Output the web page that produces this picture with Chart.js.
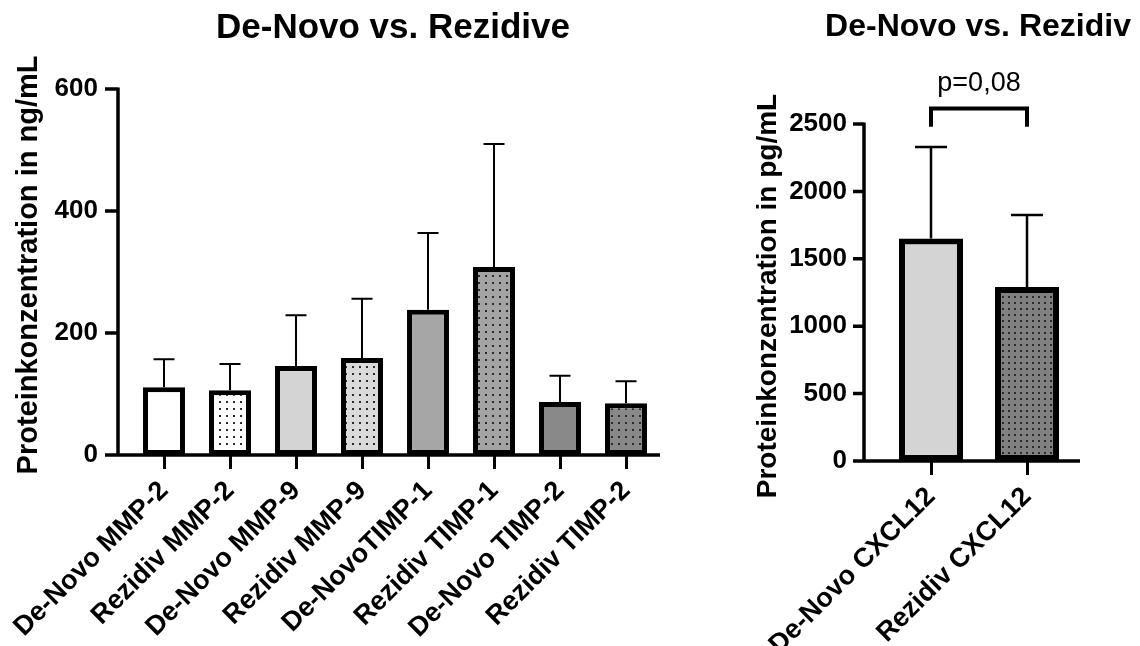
<!DOCTYPE html>
<html>
<head>
<meta charset="utf-8">
<script src="https://cdn.jsdelivr.net/npm/chart.js@4.4.0/dist/chart.umd.min.js"></script>
<style>
  html, body { margin: 0; padding: 0; background: #fff; }
  #wrap { position: relative; width: 1140px; height: 646px; }
  #left { position: absolute; left: 0; top: 0; width: 700px; height: 646px; }
  #right { position: absolute; left: 700px; top: 0; width: 440px; height: 646px; }
</style>
</head>
<body>
<div id="wrap">
  <div id="left"><canvas id="mmpChart"></canvas></div>
  <div id="right"><canvas id="cxclChart"></canvas></div>
</div>
<script>
// left panel: MMP / TIMP in ng/mL
const mmpLabels = ['De-Novo MMP-2', 'Rezidiv MMP-2', 'De-Novo MMP-9', 'Rezidiv MMP-9',
                   'De-NovoTIMP-1', 'Rezidiv TIMP-1', 'De-Novo TIMP-2', 'Rezidiv TIMP-2'];
const mmpMeans = [111, 106, 146, 159, 238, 308, 87, 85];
const mmpSD = [46, 43, 83, 97, 126, 202, 43, 36];
const mmpTicks = [0, 200, 400, 600];
const mmpColors = ['#ffffff', '#ffffff', '#d4d4d4', '#dadada', '#a6a6a6', '#a3a3a3', '#898989', '#888888'];
const mmpDotted = [false, true, false, true, false, true, false, true];

// right panel: CXCL12 in pg/mL
const cxclLabels = ['De-Novo CXCL12', 'Rezidiv CXCL12'];
const cxclMeans = [1650, 1290];
const cxclSD = [680, 535];
const cxclTicks = [0, 500, 1000, 1500, 2000, 2500];
const cxclColors = ['#d4d4d4', '#808080'];
const cxclDotted = [false, true];

const FONT = 'Liberation Sans, Arial, Helvetica, sans-serif';

function dotPattern(ctx, bg, step) {
    const c = document.createElement('canvas');
    c.width = step;
    c.height = step;
    const g = c.getContext('2d');
    g.fillStyle = bg;
    g.fillRect(0, 0, step, step);
    g.fillStyle = '#2b2b2b';
    g.fillRect(2, 2, 2, 2);
    return ctx.createPattern(c, 'repeat');
}

function fills(canvas, colors, dotted, step) {
    const ctx = canvas.getContext('2d');
    return colors.map((c, i) => dotted[i] ? dotPattern(ctx, c, step) : c);
}

// Prism-style detached axes, titles, SD whiskers and significance bracket
const prismAxes = {
    id: 'prismAxes',
    afterDraw(chart, args, opts) {
        const { ctx, chartArea } = chart;
        const xs = chart.scales.x, ys = chart.scales.y;
        const ax = chartArea.left - opts.gap;
        const y0 = ys.getPixelForValue(0);
        const yTop = ys.getPixelForValue(ys.max);
        const bars = chart.getDatasetMeta(0).data;

        ctx.save();
        ctx.strokeStyle = '#000';
        ctx.fillStyle = '#000';

        // whiskers
        ctx.lineWidth = opts.errWidth;
        ctx.beginPath();
        bars.forEach((bar, i) => {
            const m = opts.means[i];
            const yb = ys.getPixelForValue(m);
            const ye = ys.getPixelForValue(m + opts.sd[i]);
            ctx.moveTo(bar.x, yb);
            ctx.lineTo(bar.x, ye);
            ctx.moveTo(bar.x - opts.cap / 2, ye);
            ctx.lineTo(bar.x + opts.cap / 2, ye);
        });
        ctx.stroke();

        // axes
        ctx.lineWidth = 3.5;
        ctx.beginPath();
        ctx.moveTo(ax, yTop - 1.5);
        ctx.lineTo(ax, y0 + 1.75);
        ctx.moveTo(ax - 1.75, y0);
        ctx.lineTo(chartArea.right + opts.extend, y0);
        ys.ticks.forEach(t => {
            const py = ys.getPixelForValue(t.value);
            ctx.moveTo(ax - opts.tick, py);
            ctx.lineTo(ax, py);
        });
        ctx.stroke();

        // chart title
        ctx.textAlign = 'center';
        ctx.textBaseline = 'middle';
        ctx.font = 'bold ' + opts.titleSize + 'px ' + FONT;
        ctx.fillText(opts.title, (chartArea.left + chartArea.right) / 2 + opts.titleDx, opts.titleY);

        // y axis title
        ctx.save();
        ctx.translate(opts.yTitleX, opts.yTitleY);
        ctx.rotate(-Math.PI / 2);
        ctx.font = 'bold ' + opts.yTitleSize + 'px ' + FONT;
        ctx.fillText(opts.yTitle, 0, 0);
        ctx.restore();

        if (opts.bracket) {
            const b = opts.bracket;
            const x1 = xs.getPixelForValue(b.from);
            const x2 = xs.getPixelForValue(b.to);
            const yb = ys.getPixelForValue(b.value);
            const yd = ys.getPixelForValue(b.drop);
            ctx.lineWidth = 4;
            ctx.beginPath();
            ctx.moveTo(x1, yd);
            ctx.lineTo(x1, yb);
            ctx.lineTo(x2, yb);
            ctx.lineTo(x2, yd);
            ctx.stroke();
            ctx.font = '27px ' + FONT;
            ctx.fillText(b.text, (x1 + x2) / 2, yb - 25);
        }
        ctx.restore();
    }
};

function makeChart(canvas, cfg) {
    return new Chart(canvas, {
        type: 'bar',
        data: {
            labels: cfg.labels,
            datasets: [{
                data: cfg.means,
                backgroundColor: fills(canvas, cfg.colors, cfg.dotted, cfg.dotStep),
                borderColor: '#000',
                borderWidth: cfg.border,
                borderSkipped: false,
                barPercentage: cfg.barPct,
                categoryPercentage: 1
            }]
        },
        options: {
            responsive: true,
            maintainAspectRatio: false,
            animation: false,
            devicePixelRatio: 1,
            layout: { padding: { left: 0, right: cfg.padRight, top: cfg.padTop, bottom: 0 } },
            plugins: {
                legend: { display: false },
                tooltip: { enabled: false },
                title: { display: false },
                prismAxes: cfg
            },
            scales: {
                x: {
                    grid: { offset: false, drawOnChartArea: false, drawTicks: true, tickLength: 14, lineWidth: 3, color: '#000' },
                    border: { display: false },
                    ticks: {
                        autoSkip: false,
                        maxRotation: 45,
                        minRotation: 45,
                        color: '#000',
                        padding: 6,
                        font: { family: FONT, size: 27, weight: 'bold' }
                    },
                    afterFit: s => { s.height = cfg.xHeight; }
                },
                y: {
                    min: 0,
                    max: cfg.ticks[cfg.ticks.length - 1],
                    afterBuildTicks: s => { s.ticks = cfg.ticks.map(v => ({ value: v })); },
                    grid: { display: false, drawTicks: false },
                    border: { display: false },
                    ticks: {
                        color: '#000',
                        padding: cfg.tickPad,
                        font: { family: FONT, size: 26, weight: 'bold' },
                        callback: v => String(v)
                    },
                    afterFit: s => { s.width = cfg.yWidth; }
                }
            }
        },
        plugins: [prismAxes]
    });
}

makeChart(document.getElementById('mmpChart'), {
    labels: mmpLabels, means: mmpMeans, sd: mmpSD, ticks: mmpTicks,
    colors: mmpColors, dotted: mmpDotted, dotStep: 7,
    border: 5, barPct: 0.636, padRight: 41, padTop: 89,
    title: 'De-Novo vs. Rezidive', titleSize: 35, titleY: 28, titleDx: -2,
    gap: 13, tick: 13, extend: 1, cap: 21, errWidth: 2,
    xHeight: 191, tickPad: 33, yWidth: 131,
    yTitle: 'Proteinkonzentration in ng/mL', yTitleSize: 29, yTitleX: 29, yTitleY: 265
});

makeChart(document.getElementById('cxclChart'), {
    labels: cxclLabels, means: cxclMeans, sd: cxclSD, ticks: cxclTicks,
    colors: cxclColors, dotted: cxclDotted, dotStep: 6,
    border: 6, barPct: 0.667, padRight: 65, padTop: 124,
    title: 'De-Novo vs. Rezidiv', titleSize: 32, titleY: 27, titleDx: -1,
    gap: 19, tick: 11, extend: 5, cap: 32, errWidth: 2.5,
    xHeight: 185, tickPad: 36, yWidth: 183,
    yTitle: 'Proteinkonzentration in pg/mL', yTitleSize: 28, yTitleX: 68, yTitleY: 296,
    bracket: { from: 0, to: 1, value: 2615, drop: 2480, text: 'p=0,08' }
});
</script>
</body>
</html>
